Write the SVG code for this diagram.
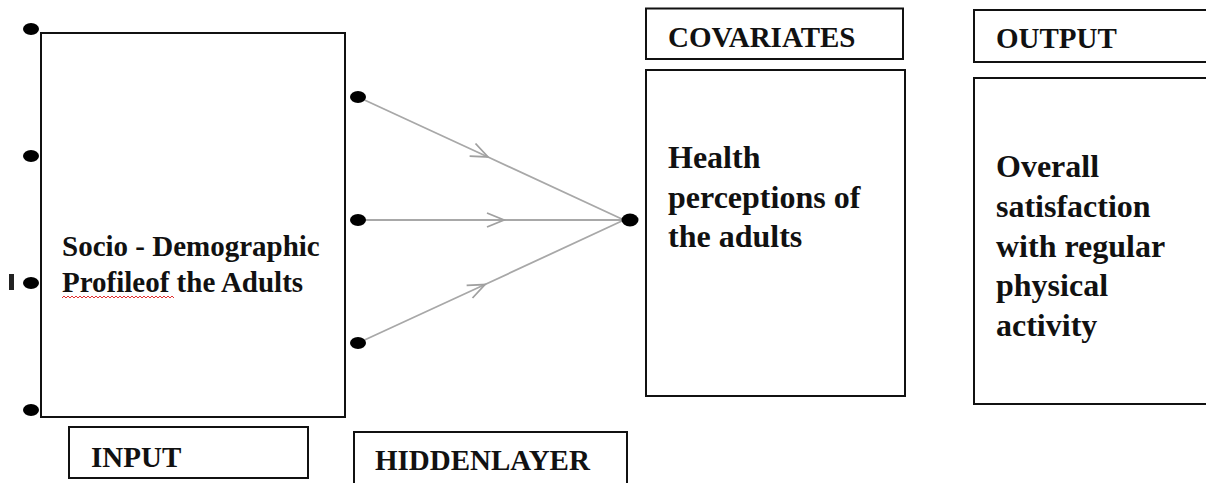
<svg xmlns="http://www.w3.org/2000/svg" width="1206" height="483" viewBox="0 0 1206 483">
<defs>
<style>
.box{fill:none;stroke:#111;stroke-width:2}
.lbl{font-family:"Liberation Serif","Times New Roman",serif;font-weight:bold;font-size:29px;fill:#111}
.big{font-family:"Liberation Serif","Times New Roman",serif;font-weight:bold;font-size:32px;fill:#111}
.dot{fill:#000}
.conn{fill:none;stroke:#a8a8a8;stroke-width:1.8}
</style>
<marker id="chev" markerUnits="userSpaceOnUse" markerWidth="24" markerHeight="20" viewBox="-20 -10 24 20" refX="0" refY="0" orient="auto">
<path d="M-17,-7 L0,0 L-17,7" fill="none" stroke="#a0a0a0" stroke-width="1.8"/>
</marker>
</defs>
<rect width="1206" height="483" fill="#fff"/>
<g id="connectors">
<polyline class="conn" points="358,97 488,157 624,220" marker-mid="url(#chev)"/>
<polyline class="conn" points="358,220 504,220 624,220" marker-mid="url(#chev)"/>
<polyline class="conn" points="358,343 485,284.5 624,220" marker-mid="url(#chev)"/>
</g>
<g id="input-dots">
<ellipse class="dot" cx="31" cy="29" rx="8" ry="6"/>
<ellipse class="dot" cx="31" cy="156" rx="8" ry="6"/>
<ellipse class="dot" cx="31" cy="283" rx="8" ry="6"/>
<ellipse class="dot" cx="31" cy="410" rx="8" ry="6"/>
<rect x="9" y="274" width="5" height="16" fill="#222"/>
</g>
<g id="input-node">
<rect class="box" x="41" y="33" width="304" height="384" fill="#fff" style="fill:#fff"/>
<text class="lbl" x="62" y="256">Socio - Demographic</text>
<text class="lbl" x="62" y="292">Profileof the Adults</text>
<path d="M62,298 l2,-2 l2,2 l2,-2 l2,2 l2,-2 l2,2 l2,-2 l2,2 l2,-2 l2,2 l2,-2 l2,2 l2,-2 l2,2 l2,-2 l2,2 l2,-2 l2,2 l2,-2 l2,2 l2,-2 l2,2 l2,-2 l2,2 l2,-2 l2,2 l2,-2 l2,2 l2,-2 l2,2 l2,-2 l2,2 l2,-2 l2,2 l2,-2 l2,2 l2,-2 l2,2 l2,-2 l2,2 l2,-2 l2,2 l2,-2 l2,2 l2,-2 l2,2 l2,-2 l2,2 l2,-2 l2,2 l2,-2 l2,2 l2,-2 l2,2 l2,-2 l2,2" fill="none" stroke="#e03030" stroke-width="1"/>
</g>
<g id="hidden-dots">
<ellipse class="dot" cx="358" cy="97" rx="8" ry="6"/>
<ellipse class="dot" cx="358" cy="220" rx="8" ry="6"/>
<ellipse class="dot" cx="358" cy="343" rx="8" ry="6"/>
<ellipse class="dot" cx="630" cy="220" rx="8.5" ry="6.5"/>
</g>
<g id="input-label">
<rect class="box" x="69" y="427" width="239" height="51"/>
<text class="lbl" x="91" y="467">INPUT</text>
</g>
<g id="hidden-label">
<rect class="box" x="354" y="432" width="273" height="54"/>
<text class="lbl" x="375" y="470">HIDDENLAYER</text>
</g>
<g id="covariates-label">
<rect class="box" x="646" y="8.5" width="257" height="50.5"/>
<text class="lbl" x="668" y="47">COVARIATES</text>
</g>
<g id="covariates-node">
<rect class="box" x="646" y="70" width="259" height="326"/>
<text class="big" x="668" y="168">Health</text>
<text class="big" x="668" y="208">perceptions of</text>
<text class="big" x="668" y="247">the adults</text>
</g>
<g id="output-label">
<rect class="box" x="974" y="10" width="240" height="52"/>
<text class="lbl" x="996" y="48">OUTPUT</text>
</g>
<g id="output-node">
<rect class="box" x="974" y="78" width="240" height="326"/>
<text class="big" x="996" y="177">Overall</text>
<text class="big" x="996" y="217">satisfaction</text>
<text class="big" x="996" y="257">with regular</text>
<text class="big" x="996" y="296">physical</text>
<text class="big" x="996" y="336">activity</text>
</g>
</svg>
